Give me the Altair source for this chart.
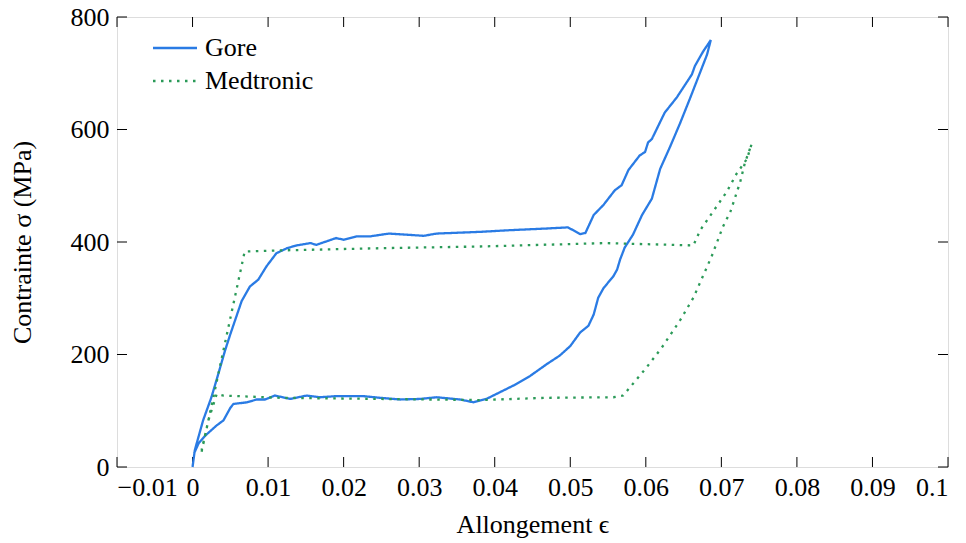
import altair as alt
import pandas as pd

# Gore loop (loading then unloading)
gore_x = [0, 0.0003, 0.0014, 0.0025, 0.0034, 0.0043, 0.005, 0.0065, 0.0076, 0.0087, 0.0098, 0.0111,
          0.0125, 0.0138, 0.0156, 0.0164, 0.019, 0.02, 0.0217, 0.0235, 0.026, 0.0306, 0.0323, 0.038,
          0.042, 0.0469, 0.0497, 0.0513, 0.052, 0.0531, 0.0544, 0.0559, 0.0568, 0.0577, 0.0592, 0.0599,
          0.0603, 0.0608, 0.0621, 0.0625, 0.0641, 0.0661, 0.0665, 0.0676, 0.0686,
          0.0681, 0.067, 0.0659, 0.0645, 0.0632, 0.0619, 0.0608, 0.0595, 0.0583, 0.0572, 0.0566, 0.0562,
          0.0557, 0.0544, 0.0537, 0.0531, 0.0524, 0.0513, 0.05, 0.0486, 0.0469, 0.0447, 0.0425, 0.0407,
          0.0389, 0.038, 0.0372, 0.0354, 0.0323, 0.0301, 0.0275, 0.0248, 0.0226, 0.019, 0.0169, 0.0151,
          0.0129, 0.0109, 0.0096, 0.0085, 0.0072, 0.0054, 0.005, 0.0041, 0.0032, 0.0017, 0.0008, 0.0002]
gore_y = [0, 30, 83, 124, 165, 207, 236, 295, 321, 333, 357, 380,
          389, 394, 398, 395, 407, 404, 410, 410, 415, 411, 415, 418,
          421, 424, 426, 414, 416, 448, 466, 492, 501, 528, 554, 560,
          577, 583, 619, 630, 657, 698, 713, 739, 759,
          733, 695, 657, 610, 569, 530, 477, 448, 413, 390, 369, 351,
          339, 318, 301, 271, 251, 239, 215, 198, 183, 162, 145, 133,
          121, 118, 115, 120, 124, 121, 120, 123, 126, 126, 124, 127,
          121, 127, 120, 120, 115, 112, 105, 83, 74, 56, 42, 24]

# Medtronic loop
med_x = [0.0012, 0.0069, 0.0116, 0.025, 0.038, 0.0546, 0.0663, 0.0672, 0.0689, 0.0707, 0.072, 0.0734, 0.074,
         0.0731, 0.0725, 0.0712, 0.0702, 0.0687, 0.0663, 0.0645, 0.0621, 0.0601, 0.0583, 0.057, 0.0557,
         0.0469, 0.038, 0.0248, 0.0116, 0.0041, 0.0032, 0.0021, 0.0012]
med_y = [27, 383, 385, 389, 392, 398, 394, 421, 454, 489, 521, 548, 574,
         540, 507, 454, 427, 374, 301, 260, 212, 177, 148, 127, 124,
         123, 119, 121, 123, 127, 130, 83, 30]

series_names = ["Gore", "Medtronic"]
series_colors = ["#2a7be4", "#2b9a58"]

x_ticks = [-0.01, 0, 0.01, 0.02, 0.03, 0.04, 0.05, 0.06, 0.07, 0.08, 0.09, 0.1]
y_ticks = [0, 200, 400, 600, 800]

rows = []
for i, (x, y) in enumerate(zip(gore_x, gore_y)):
    rows.append({"series": "Gore", "i": i, "x": x, "y": y})
for i, (x, y) in enumerate(zip(med_x, med_y)):
    rows.append({"series": "Medtronic", "i": i, "x": x, "y": y})
df = pd.DataFrame(rows)

W, H = 831, 450
FONT = "Liberation Serif"
FS = 26

xscale = alt.Scale(domain=[-0.01, 0.1], nice=False, zero=False)
yscale = alt.Scale(domain=[0, 800], nice=False, zero=False)

legend_opts = dict(title=None, orient="none", legendX=45, legendY=18,
                   symbolType="M-2,0L2,0", symbolSize=484, symbolStrokeWidth=2.3,
                   labelFont=FONT, labelFontSize=FS, labelColor="black",
                   labelOffset=17, rowPadding=7, padding=0)

lines = alt.Chart(df).mark_line(strokeWidth=2.3, strokeCap="butt").encode(
    x=alt.X("x:Q", scale=xscale,
            axis=alt.Axis(values=x_ticks, format="~g", ticks=False, domain=False, grid=False,
                          labelPadding=7, labelFontSize=FS, labelFont=FONT, labelColor="black",
                          title="Allongement ϵ", titleFont=FONT, titleFontSize=FS,
                          titleFontWeight="normal", titleColor="black",
                          titleX=W / 2, titleY=57, titleBaseline="middle")),
    y=alt.Y("y:Q", scale=yscale,
            axis=alt.Axis(values=y_ticks, ticks=False, domain=False, grid=False,
                          labelPadding=8, labelFontSize=FS, labelFont=FONT, labelColor="black",
                          title="Contrainte σ  (MPa)", titleFont=FONT, titleFontSize=FS,
                          titleFontWeight="normal", titleColor="black",
                          titleAngle=-90, titleX=-95, titleY=H / 2, titleBaseline="middle")),
    color=alt.Color("series:N", scale=alt.Scale(domain=series_names, range=series_colors),
                    legend=alt.Legend(**legend_opts)),
    strokeDash=alt.StrokeDash("series:N",
                              scale=alt.Scale(domain=series_names, range=[[1, 0], [2.5, 5.5]]),
                              legend=alt.Legend(**legend_opts)),
    order=alt.Order("i:Q"),
    detail="series:N",
)

xt = pd.DataFrame({"v": x_ticks})
yt = pd.DataFrame({"v": y_ticks})
TL = 10
tick_style = dict(color="black", strokeWidth=1)
bottom_ticks = alt.Chart(xt).mark_rule(**tick_style).encode(
    x=alt.X("v:Q", scale=xscale), y=alt.value(H), y2=alt.value(H - TL))
top_ticks = alt.Chart(xt).mark_rule(**tick_style).encode(
    x=alt.X("v:Q", scale=xscale), y=alt.value(0), y2=alt.value(TL))
left_ticks = alt.Chart(yt).mark_rule(**tick_style).encode(
    y=alt.Y("v:Q", scale=yscale), x=alt.value(0), x2=alt.value(TL))
right_ticks = alt.Chart(yt).mark_rule(**tick_style).encode(
    y=alt.Y("v:Q", scale=yscale), x=alt.value(W), x2=alt.value(W - TL))

chart = alt.layer(bottom_ticks, top_ticks, left_ticks, right_ticks, lines).properties(
    width=W, height=H,
    autosize=alt.AutoSizeParams(type="none"),
    padding={"left": 109, "top": 9, "right": 10, "bottom": 76},
).configure_view(stroke="black", strokeWidth=1.2).configure(background="white")

chart.save("out.html", embed_options={"renderer": "svg", "actions": False})
